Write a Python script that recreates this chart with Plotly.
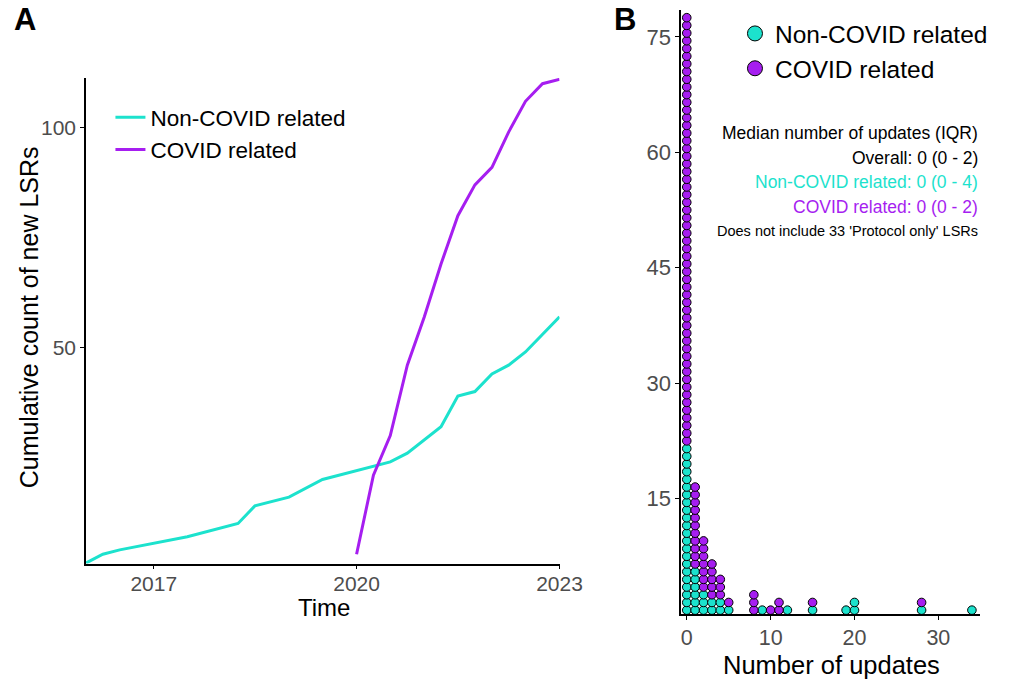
import plotly.graph_objects as go

# ---------------- Data ----------------
# Panel A: cumulative count of new LSRs over time
noncovid_dates = ["2016-01-01", "2016-04-01", "2016-07-01", "2017-07-01", "2018-04-01",
                  "2018-07-01", "2019-01-01", "2019-07-01", "2020-07-01", "2020-10-01",
                  "2021-04-01", "2021-07-01", "2021-10-01", "2022-01-01", "2022-04-01",
                  "2022-07-01", "2023-01-01"]
noncovid_cum = [1, 3, 4, 7, 10, 14, 16, 20, 24, 26, 32, 39, 40, 44, 46, 49, 57]

covid_dates = ["2020-01-01", "2020-04-01", "2020-07-01", "2020-10-01", "2021-01-01",
               "2021-04-01", "2021-07-01", "2021-10-01", "2022-01-01", "2022-04-01",
               "2022-07-01", "2022-10-01", "2023-01-01"]
covid_cum = [3, 21, 30, 46, 57, 69, 80, 87, 91, 99, 106, 110, 111]

# Panel B: number of LSRs at each number of updates
update_values = [0, 1, 2, 3, 4, 5, 8, 9, 10, 11, 12, 15, 19, 20, 28, 34]
noncovid_counts = [22, 6, 3, 2, 2, 1, 0, 1, 0, 0, 1, 1, 1, 2, 1, 1]
covid_counts = [56, 11, 7, 5, 3, 1, 3, 0, 1, 2, 0, 1, 0, 0, 1, 0]

TEAL = "#1CE2CD"
PURPLE = "#A61EF0"
FONT = "Liberation Sans, Arial, sans-serif"
GRAY = "#4D4D4D"

W, H = 1016, 680


def px_x(p):
    return p / W


def px_y(p):
    return 1 - p / H


# stacked dots: non-COVID at the bottom of each stack, COVID on top
nc_x, nc_y, c_x, c_y = [], [], [], []
for v, n1, n2 in zip(update_values, noncovid_counts, covid_counts):
    for k in range(n1):
        nc_x.append(v)
        nc_y.append(k + 0.5)
    for k in range(n2):
        c_x.append(v)
        c_y.append(n1 + k + 0.5)

fig = go.Figure()
fig.add_trace(go.Scatter(x=noncovid_dates, y=noncovid_cum, mode="lines",
                         line=dict(color=TEAL, width=3), name="Non-COVID related",
                         xaxis="x", yaxis="y", legend="legend"))
fig.add_trace(go.Scatter(x=covid_dates, y=covid_cum, mode="lines",
                         line=dict(color=PURPLE, width=3), name="COVID related",
                         xaxis="x", yaxis="y", legend="legend"))
fig.add_trace(go.Scatter(x=nc_x, y=nc_y, mode="markers",
                         marker=dict(color=TEAL, size=8.6, line=dict(color="black", width=1)),
                         showlegend=False, xaxis="x2", yaxis="y2"))
fig.add_trace(go.Scatter(x=c_x, y=c_y, mode="markers",
                         marker=dict(color=PURPLE, size=8.6, line=dict(color="black", width=1)),
                         showlegend=False, xaxis="x2", yaxis="y2"))
fig.add_trace(go.Scatter(x=[None], y=[None], mode="markers", name="Non-COVID related",
                         marker=dict(color=TEAL, size=15, line=dict(color="black", width=1)),
                         xaxis="x2", yaxis="y2", legend="legend2", legendgroup="g1"))
fig.add_trace(go.Scatter(x=[None], y=[None], mode="markers", name="COVID related",
                         marker=dict(color=PURPLE, size=15, line=dict(color="black", width=1)),
                         xaxis="x2", yaxis="y2", legend="legend2", legendgroup="g2"))

axis_common = dict(showline=True, linecolor="black", linewidth=1.6, ticks="outside",
                   ticklen=4, tickwidth=1.4, tickcolor="black", showgrid=False,
                   zeroline=False, mirror=False)

fig.update_layout(
    width=W, height=H, autosize=False,
    margin=dict(l=0, r=0, t=0, b=0),
    paper_bgcolor="white", plot_bgcolor="white",
    font=dict(family=FONT, color="black"),
    xaxis=dict(domain=[px_x(88), px_x(572.5)], type="date",
               range=["2016-01-01", "2023-01-01"],
               tickvals=["2017-01-01", "2020-01-01", "2023-01-01"],
               ticktext=["2017", "2020", "2023"],
               tickfont=dict(size=21, color=GRAY, family=FONT),
               ticklabelstandoff=-4,
               anchor="y", **axis_common),
    yaxis=dict(domain=[px_y(563.5), px_y(78)], range=[0.9, 111.3],
               tickvals=[50, 100],
               tickfont=dict(size=21, color=GRAY, family=FONT),
               anchor="x", **axis_common),
    xaxis2=dict(domain=[px_x(697), px_x(1003)], range=[-0.66, 35.0],
                tickvals=[0, 10, 20, 30],
                tickfont=dict(size=21.5, color=GRAY, family=FONT),
                ticklabelstandoff=-1,
                anchor="y2", **axis_common),
    yaxis2=dict(domain=[px_y(614), px_y(10)], range=[0, 78.5],
                tickvals=[15, 30, 45, 60, 75],
                tickfont=dict(size=22, color=GRAY, family=FONT),
                anchor="x2", **axis_common),
    legend=dict(x=px_x(113), y=px_y(96), xanchor="left", yanchor="top",
                font=dict(size=22.5, family=FONT), bgcolor="rgba(0,0,0,0)",
                tracegroupgap=0),
    legend2=dict(x=px_x(752), y=px_y(11), xanchor="left", yanchor="top",
                 font=dict(size=24.5, family=FONT), bgcolor="rgba(0,0,0,0)",
                 tracegroupgap=0),
)

ann = [
    dict(text="<b>A</b>", x=px_x(12), y=px_y(0), xanchor="left", yanchor="top",
         font=dict(size=31, family=FONT)),
    dict(text="<b>B</b>", x=px_x(626), y=px_y(0), xanchor="left", yanchor="top",
         font=dict(size=31, family=FONT)),
    # axis titles
    dict(text="Cumulative count of new LSRs", x=px_x(30), y=px_y(317), xanchor="center",
         yanchor="middle", textangle=-90, font=dict(size=25, family=FONT, color="black")),
    dict(text="Time", x=px_x(332), y=px_y(607), xanchor="center", yanchor="middle",
         font=dict(size=24, family=FONT, color="black")),
    dict(text="Number of updates", x=px_x(851), y=px_y(665), xanchor="center", yanchor="middle",
         font=dict(size=25.5, family=FONT, color="black")),
    # summary text
    dict(text="Median number of updates (IQR)", x=px_x(1003), y=px_y(133), xanchor="right",
         yanchor="middle", font=dict(size=17.5, family=FONT, color="black")),
    dict(text="Overall: 0 (0 - 2)", x=px_x(1003), y=px_y(158), xanchor="right",
         yanchor="middle", font=dict(size=17.5, family=FONT, color="black")),
    dict(text="Non-COVID related: 0 (0 - 4)", x=px_x(1003), y=px_y(182), xanchor="right",
         yanchor="middle", font=dict(size=17.5, family=FONT, color=TEAL)),
    dict(text="COVID related: 0 (0 - 2)", x=px_x(1003), y=px_y(207), xanchor="right",
         yanchor="middle", font=dict(size=17.5, family=FONT, color=PURPLE)),
    dict(text="Does not include 33 'Protocol only' LSRs", x=px_x(1003), y=px_y(231),
         xanchor="right", yanchor="middle", font=dict(size=14.5, family=FONT, color="black")),
]
for a in ann:
    a.update(xref="paper", yref="paper", showarrow=False)
fig.update_layout(annotations=ann)

fig.write_html(
    "out.html",
    config={"displayModeBar": False},
    post_script=("document.body.style.margin='0';"
                 "document.body.style.overflow='hidden';"
                 "document.documentElement.style.overflow='hidden';"),
)
